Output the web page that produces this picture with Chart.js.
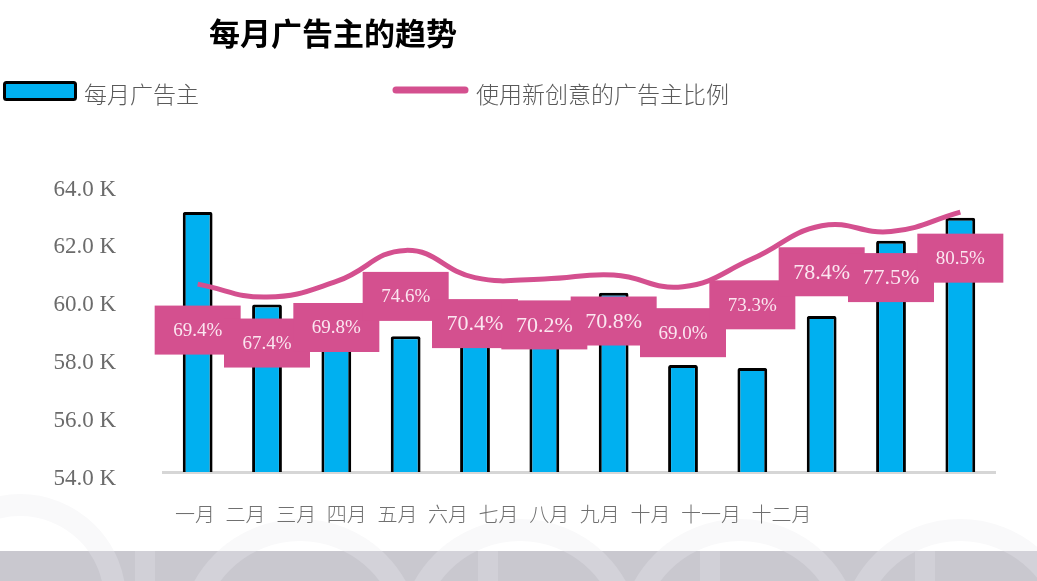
<!DOCTYPE html>
<html>
<head>
<meta charset="utf-8">
<script src="https://cdn.jsdelivr.net/npm/chart.js@4.4.1/dist/chart.umd.min.js"></script>
<style>
  html, body { margin: 0; padding: 0; background: #ffffff; }
  #wrap { width: 1037px; height: 581px; position: relative; }
</style>
</head>
<body>
<div id="wrap"><canvas id="c"></canvas></div>
<script>
// ---- data ----
const categories = ['一月','二月','三月','四月','五月','六月','七月','八月','九月','十月','十一月','十二月'];
const advertisers = [63.0, 59.8, 59.0, 58.7, 59.3, 59.1, 60.2, 57.7, 57.6, 59.4, 62.0, 62.8]; // K
const newCreativeRatio = [69.4, 67.4, 69.8, 74.6, 70.4, 70.2, 70.8, 69.0, 73.3, 78.4, 77.5, 80.5]; // %
const yTicks = [54, 56, 58, 60, 62, 64];
const titleText = '每月广告主的趋势';
const seriesNames = ['每月广告主', '使用新创意的广告主比例'];

// ---- styles ----
const BAR_COLOR = '#00b0f0';
const LINE_COLOR = '#d4508f';
const BOX_COLOR = '#d4508f';
const CJK = '"Noto Sans CJK SC", "Noto Sans", sans-serif';
const SERIF = '"Liberation Serif", "DejaVu Serif", serif';
const labelBig = [false,false,false,false,true,true,true,false,false,true,true,false];

const decorPlugin = {
  id: 'decor',
  beforeDraw(chart) {
    const ctx = chart.ctx;
    const rings = [[20, 600, 95], [300, 640, 110], [520, 640, 110], [740, 640, 110], [960, 640, 110]];
    ctx.save();
    ctx.fillStyle = '#ffffff';
    ctx.fillRect(0, 0, chart.width, chart.height);
    // very faint watermark above band
    ctx.strokeStyle = '#f9f9fa';
    ctx.lineWidth = 22;
    ctx.beginPath(); ctx.rect(0, 478, chart.width, 73); ctx.clip();
    rings.forEach(([x, y, r]) => {
      ctx.beginPath(); ctx.arc(x, y, r, 0, Math.PI * 2); ctx.stroke();
    });
    ctx.restore();
    ctx.save();
    // gray band
    ctx.fillStyle = '#c9c8cf';
    ctx.fillRect(0, 551, chart.width, 30);
    ctx.beginPath(); ctx.rect(0, 551, chart.width, 30); ctx.clip();
    ctx.strokeStyle = '#d3d2d9';
    ctx.lineWidth = 22;
    rings.forEach(([x, y, r]) => {
      ctx.beginPath(); ctx.arc(x, y, r, 0, Math.PI * 2); ctx.stroke();
    });
    ctx.fillStyle = '#d1d0d7';
    [135, 478, 700, 915].forEach(x => ctx.fillRect(x, 551, 20, 30));
    ctx.restore();
  },
  afterDraw(chart) {
    const ctx = chart.ctx;
    ctx.save();
    // title
    ctx.fillStyle = '#000000';
    ctx.font = 'bold 31px ' + CJK;
    ctx.textBaseline = 'middle';
    ctx.textAlign = 'left';
    ctx.fillText(titleText, 209, 33);
    // legend item 1
    ctx.fillStyle = BAR_COLOR;
    ctx.strokeStyle = '#000000';
    ctx.lineWidth = 3;
    ctx.beginPath();
    ctx.roundRect(4.5, 82.5, 71, 17, 2);
    ctx.fill(); ctx.stroke();
    ctx.fillStyle = '#595959';
    ctx.font = '300 23px ' + CJK;
    ctx.fillText(seriesNames[0], 84, 94);
    // legend item 2
    ctx.strokeStyle = LINE_COLOR;
    ctx.lineWidth = 7;
    ctx.lineCap = 'round';
    ctx.beginPath(); ctx.moveTo(396, 90); ctx.lineTo(465, 90); ctx.stroke();
    ctx.fillText(seriesNames[1], 476, 94);
    // x labels (packed run, as in the reference)
    ctx.fillStyle = '#707070';
    ctx.font = '300 20px ' + CJK;
    let x = chart.chartArea.left + 12;
    categories.forEach(c => {
      ctx.fillText(c, x, 514);
      x += ctx.measureText(c).width + 10.6;
    });
    ctx.restore();
  },
  afterDatasetsDraw(chart) {
    const ctx = chart.ctx;
    const meta = chart.getDatasetMeta(0); // the line dataset
    ctx.save();
    ctx.fillStyle = BOX_COLOR;
    meta.data.forEach(pt => {
      ctx.fillRect(pt.x - 43, pt.y + 46 - 24.5, 86, 49);
    });
    ctx.fillStyle = '#fbe6f0';
    ctx.textAlign = 'center';
    ctx.textBaseline = 'middle';
    meta.data.forEach((pt, i) => {
      ctx.font = (labelBig[i] ? '22px ' : '19px ') + SERIF;
      ctx.fillText(newCreativeRatio[i].toFixed(1) + '%', pt.x, pt.y + 47);
    });
    ctx.restore();
  }
};

new Chart(document.getElementById('c'), {
  data: {
    labels: categories,
    datasets: [
      {
        type: 'line',
        label: seriesNames[1],
        data: newCreativeRatio,
        yAxisID: 'y2',
        borderColor: LINE_COLOR,
        borderWidth: 5,
        tension: 0.45,
        pointRadius: 0,
        fill: false,
        order: 0
      },
      {
        type: 'bar',
        label: seriesNames[0],
        data: advertisers,
        yAxisID: 'y',
        backgroundColor: BAR_COLOR,
        borderColor: '#000000',
        borderWidth: 3,
        borderRadius: 2,
        barPercentage: 0.43,
        categoryPercentage: 1.0,
        order: 1
      }
    ]
  },
  options: {
    responsive: true,
    maintainAspectRatio: false,
    animation: false,
    layout: { padding: { left: 0, right: 42, top: 183, bottom: 101 } },
    plugins: { legend: { display: false }, title: { display: false }, tooltip: { enabled: false } },
    scales: {
      x: {
        type: 'category',
        offset: true,
        grid: { display: false },
        ticks: { display: false },
        border: { display: true, color: '#d6d6d6', width: 3 }
      },
      y: {
        position: 'left',
        min: yTicks[0],
        max: yTicks[yTicks.length - 1],
        afterBuildTicks(scale) { scale.ticks = yTicks.map(v => ({ value: v })); },
        afterFit(scale) { scale.width = 163; },
        grid: { display: false },
        border: { display: false },
        ticks: {
          padding: 39,
          labelOffset: 6.5,
          color: '#6b6b6b',
          font: { family: SERIF, size: 23 },
          callback: v => v.toFixed(1) + ' K'
        }
      },
      y2: {
        display: false,
        min: 40.4,
        max: 85.0
      }
    }
  },
  plugins: [decorPlugin]
});
</script>
</body>
</html>
